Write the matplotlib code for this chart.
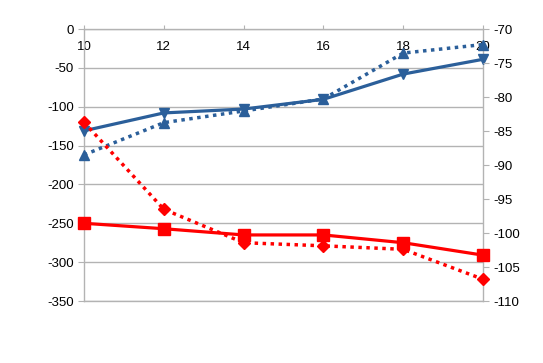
import matplotlib
matplotlib.use('Agg')
import matplotlib.pyplot as plt

plt.rcParams['font.family'] = ['Liberation Sans', 'DejaVu Sans']
plt.rcParams['axes.unicode_minus'] = False

x = [10, 12, 14, 16, 18, 20]
blue_solid = [-131, -108, -103, -90.5, -58, -39]
blue_dotted = [-162, -120.5, -105.5, -90, -31, -20]
red_solid = [-250, -257, -265, -265, -275, -291]
red_dotted = [-120, -232, -275, -279, -283.5, -322]

left_ticks = [0, -50, -100, -150, -200, -250, -300, -350]
right_ticks = [-70, -75, -80, -85, -90, -95, -100, -105, -110]

blue = '#2b5f9a'
red = '#ff0000'
grid_col = '#b3b3b3'

fig = plt.figure(figsize=(5.43, 3.63), dpi=100)
ax = fig.add_axes([84 / 543, 1 - 301 / 363, (483 - 84) / 543, (301 - 29) / 363])

ax.plot(x, blue_solid, color=blue, lw=2.3, marker='v', ms=7.5, clip_on=False, zorder=3)
ax.plot(x, blue_dotted, color=blue, lw=2.5, ls=(0, (1, 1.3)), marker='^', ms=7.5, clip_on=False, zorder=3)
ax.plot(x, red_solid, color=red, lw=2.3, marker='s', ms=8, clip_on=False, zorder=3)
ax.plot(x, red_dotted, color=red, lw=2.5, ls=(0, (1, 1.3)), marker='D', ms=6, clip_on=False, zorder=3)

ax.set_xlim(10, 20)
ax.set_ylim(-350, 0)
ax.set_yticks(left_ticks)
ax.set_xticks(x)
ax.yaxis.grid(True, color=grid_col, lw=1)
ax.set_axisbelow(True)

for s in ax.spines.values():
    s.set_color(grid_col)
    s.set_linewidth(1)

ax.tick_params(axis='y', direction='out', length=4.3, color=grid_col, labelsize=9.5, pad=2.9)
ax.tick_params(axis='x', top=True, bottom=False, labeltop=True, labelbottom=False,
               direction='out', length=3, color=grid_col, labelsize=9.5, pad=-20)

ax2 = ax.twinx()
ax2.set_ylim(-110, -70)
ax2.set_yticks(right_ticks)
ax2.tick_params(axis='y', direction='out', length=4.3, color=grid_col, labelsize=9.5, pad=2.9)
for s in ax2.spines.values():
    s.set_visible(False)

fig.savefig('out.png', dpi=100)
